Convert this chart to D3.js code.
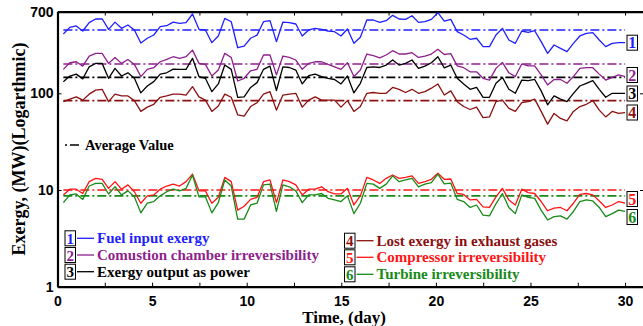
<!DOCTYPE html>
<html>
<head>
<meta charset="utf-8">
<script src="https://cdn.jsdelivr.net/npm/d3@7"></script>
<style>
  html, body { margin: 0; padding: 0; background: #fff; }
  svg { display: block; }
  .tick text { font-family: "Liberation Sans", Arial, sans-serif; font-weight: bold; font-size: 14px; fill: #000; }
  .serif { font-family: "Liberation Serif", "Times New Roman", serif; font-weight: bold; }
</style>
</head>
<body>
<div id="chart"></div>
<script>
// readings every ~1/3 day, MW
const fuelInput = [410, 481, 497, 441, 538, 587, 590, 459, 545, 470, 509, 452, 331, 371, 401, 489, 500, 545, 530, 538, 661, 459, 452, 334, 392, 596, 550, 296, 308, 371, 400,
  550, 564, 342, 546, 538, 521, 392, 452, 470, 459, 441, 434, 392, 463, 329, 380, 573, 573, 542, 564, 640, 587, 582, 635, 542, 550, 582, 682, 557, 582,
  434, 401, 362, 371, 304, 304, 401, 470, 356, 329, 441, 427, 444, 342, 259, 316, 292, 270, 329, 392, 417, 424, 356, 304, 329, 334, 334];
const combustion = [177, 207, 212, 191, 243, 259, 259, 204, 235, 204, 224, 199, 149, 177, 184, 212, 224, 239, 230, 239, 280, 204, 199, 151, 174, 259, 235, 134, 143, 171, 177,
  249, 249, 155, 243, 235, 221, 177, 204, 212, 212, 199, 188, 177, 207, 149, 174, 255, 245, 233, 249, 276, 255, 255, 263, 235, 243, 255, 285, 252, 257,
  192, 184, 167, 167, 143, 137, 181, 209, 163, 149, 201, 192, 192, 155, 122, 139, 139, 127, 149, 181, 184, 184, 158, 137, 146, 155, 149];
const power = [132, 151, 158, 141, 188, 204, 204, 143, 181, 151, 163, 143, 101, 119, 132, 158, 163, 178, 177, 177, 230, 149, 143, 104, 125, 196, 177, 91, 92, 115, 129,
  177, 191, 107, 188, 185, 174, 125, 152, 158, 149, 143, 139, 125, 151, 101, 127, 185, 188, 185, 196, 221, 196, 204, 221, 181, 191, 207, 239, 183, 196,
  143, 125, 110, 115, 91, 91, 127, 146, 110, 100, 137, 135, 139, 106, 76, 94, 87, 82, 100, 119, 127, 135, 110, 91, 100, 100, 100];
const exhaust = [82, 87, 92, 85, 98, 108, 110, 82, 98, 94, 94, 84, 65, 72, 77, 91, 94, 98, 98, 96, 117, 92, 85, 65,
  74, 98, 91, 60, 58, 73, 80, 98, 104, 67, 96, 98, 100, 72, 85, 92, 85, 85, 85, 72, 84, 65, 73, 100, 102, 100, 100, 115, 110, 102, 110,
  100, 104, 113, 125, 96, 106, 82, 73, 68, 72, 56, 57, 82, 85, 70, 65, 80, 82, 87, 65, 48, 62, 55, 52, 65, 73, 77, 84, 67, 57, 65, 62, 63];
const compressor = [8.9, 10.2, 10.2, 9.2, 12.2, 13.2, 12.9, 10.4, 12.2, 10.2, 11.3, 9.6, 7.3, 8.7, 8.9, 10.2, 11.0, 11.5, 11.0, 12.2, 14.6, 9.8, 9.8, 7.3, 8.4, 13.5, 12.2, 6.2, 6.8, 8.0, 8.4,
  12.2, 12.7, 7.4, 12.7, 12.2, 11.3, 8.9, 10.2, 10.2, 10.8, 9.6, 9.1, 9.1, 10.4, 7.0, 8.7, 13.5, 12.7, 11.7, 13.2, 14.3, 13.2, 13.5, 14.0, 11.7, 12.2, 12.9, 14.9, 12.9, 13.0,
  9.2, 9.0, 7.9, 8.0, 6.7, 6.6, 8.5, 10.4, 7.9, 7.0, 10.2, 9.4, 9.2, 7.6, 6.1, 6.5, 6.6, 6.1, 7.3, 9.0, 9.2, 8.9, 7.7, 6.6, 7.0, 7.6, 7.3];
const turbine = [7.4, 8.9, 9.1, 8.0, 11.0, 11.7, 11.7, 9.1, 10.8, 8.9, 9.8, 8.5, 5.8, 7.3, 7.6, 8.7, 9.6, 10.2, 9.8, 10.4, 14.3, 8.5, 8.5, 5.8, 7.4, 12.7, 11.0, 5.0, 5.0, 7.0, 7.3,
  11.3, 11.5, 6.0, 11.3, 10.8, 9.8, 7.4, 8.9, 8.9, 9.2, 8.2, 7.9, 7.6, 8.7, 5.7, 7.3, 11.7, 11.5, 10.4, 11.5, 14.0, 12.2, 12.7, 13.2, 10.8, 11.5, 11.9, 14.6, 11.6, 11.8,
  8.0, 7.6, 6.6, 7.0, 5.5, 5.4, 7.2, 9.2, 6.6, 5.7, 8.9, 8.4, 8.2, 6.2, 4.9, 5.3, 5.4, 5.0, 6.0, 7.6, 7.9, 7.7, 6.6, 5.3, 5.7, 6.2, 6.0];

const averages = [452, 201, 146, 84, 10, 8.7];
const seriesNames = ['Fuel input exergy', 'Comustion chamber irreversibility', 'Exergy output as power',
  'Lost exergy in exhaust gases', 'Compressor irreversibility', 'Turbine irreversibility'];
const seriesColors = ['#1f1fff', '#8e1f8e', '#000000', '#8b1010', '#ff1414', '#188a18'];
const dayRange = [0.31, 30];          // first and last sample day
const xTicks = [0, 2.5, 5, 7.5, 10, 12.5, 15, 17.5, 20, 22.5, 25, 27.5, 30];
const yTicks = [1, 10, 100, 700];

const allSeries = [fuelInput, combustion, power, exhaust, compressor, turbine];

const width = 643, height = 326;
const margin = { top: 11.6, left: 57.5, right: 644, bottom: 286.7 };

const svg = d3.select('#chart')
  .append('svg')
  .attr('width', width)
  .attr('height', height);

const xScale = d3.scaleLinear().domain([0, 31]).range([margin.left, margin.right]);
const yScale = d3.scaleLog().domain([1, 700]).range([margin.bottom, margin.top]);
const sampleDay = d3.scaleLinear().domain([0, fuelInput.length - 1]).range(dayRange);

// axes, ticks inside like matlab
svg.append('g')
  .attr('transform', `translate(0, ${margin.bottom})`)
  .call(d3.axisBottom(xScale).tickValues(xTicks).tickSizeInner(-4).tickSizeOuter(0).tickPadding(9)
    .tickFormat((d) => (d % 5 === 0 ? d : '')));
svg.append('g')
  .attr('transform', `translate(0, ${margin.top})`)
  .call(d3.axisTop(xScale).tickValues(xTicks).tickSizeInner(-4).tickSizeOuter(0).tickFormat(''));
svg.append('g')
  .attr('transform', `translate(${margin.left}, 0)`)
  .call(d3.axisLeft(yScale).tickValues(yTicks).tickSizeInner(-4).tickSizeOuter(0).tickPadding(4)
    .tickFormat(d3.format('d')));
svg.append('g')
  .attr('transform', `translate(${margin.right}, 0)`)
  .call(d3.axisRight(yScale).tickValues(yTicks).tickSizeInner(-4).tickSizeOuter(0).tickFormat(''));

svg.selectAll('.domain').attr('stroke', '#000').attr('stroke-width', 2.2);
svg.selectAll('.tick line').attr('stroke', '#000').attr('stroke-width', 1);

// average lines
const dashDot = '9,3,2,3';
svg.append('g')
  .selectAll('line')
  .data(averages)
  .enter()
  .append('line')
    .attr('x1', xScale(dayRange[0]))
    .attr('x2', xScale(dayRange[1]))
    .attr('y1', (d) => yScale(d))
    .attr('y2', (d) => yScale(d))
    .attr('stroke', (d, i) => seriesColors[i])
    .attr('stroke-width', 1.6)
    .attr('stroke-dasharray', dashDot);

// data lines
const line = d3.line()
  .x((d, i) => xScale(sampleDay(i)))
  .y((d) => yScale(d));

svg.append('g')
  .selectAll('path')
  .data(allSeries)
  .enter()
  .append('path')
    .attr('d', line)
    .attr('fill', 'none')
    .attr('stroke', (d, i) => seriesColors[i])
    .attr('stroke-width', 1.3)
    .attr('stroke-linejoin', 'round');

function boxedNumber(x, yMid, num, color, size) {
  const g = svg.append('g');
  g.append('rect')
    .attr('x', x).attr('y', yMid - 7.5)
    .attr('width', 10.5).attr('height', 15)
    .attr('fill', '#fff').attr('stroke', '#000').attr('stroke-width', 1);
  g.append('text')
    .attr('class', 'serif')
    .attr('x', x + 5.25).attr('y', yMid + 5.5)
    .attr('text-anchor', 'middle')
    .attr('font-size', size)
    .attr('fill', color)
    .text(num);
}

// right side labels
const endLabelY = [42.7, 75, 93.5, 112.5, 199, 217];
endLabelY.forEach((y, i) => boxedNumber(627, y, i + 1, seriesColors[i], 16));

// legend
const legendCols = [
  { x: 65, rows: [238.3, 255, 271.7] },
  { x: 344.5, rows: [240.7, 257.3, 274.3] }
];
seriesNames.forEach((name, i) => {
  const col = legendCols[Math.floor(i / 3)];
  const y = col.rows[i % 3];
  boxedNumber(col.x, y, i + 1, seriesColors[i], 15);
  svg.append('line')
    .attr('x1', col.x + 12).attr('x2', col.x + 29)
    .attr('y1', y).attr('y2', y)
    .attr('stroke', seriesColors[i]).attr('stroke-width', 1.3);
  svg.append('text')
    .attr('class', 'serif')
    .attr('x', col.x + 32).attr('y', y + 5)
    .attr('font-size', 15)
    .attr('fill', seriesColors[i])
    .text(name);
});

// average value note
svg.append('line')
  .attr('x1', 65).attr('x2', 82).attr('y1', 145).attr('y2', 145)
  .attr('stroke', '#000').attr('stroke-width', 1.3).attr('stroke-dasharray', '2,3,9,3');
svg.append('text')
  .attr('class', 'serif')
  .attr('x', 85).attr('y', 150)
  .attr('font-size', 14.5)
  .text('Average Value');

// axis titles
svg.append('text')
  .attr('class', 'serif')
  .attr('x', 344).attr('y', 323)
  .attr('text-anchor', 'middle')
  .attr('font-size', 17)
  .text('Time, (day)');
svg.append('text')
  .attr('class', 'serif')
  .attr('transform', 'translate(25, 149) rotate(-90)')
  .attr('text-anchor', 'middle')
  .attr('font-size', 18)
  .text('Exergy, (MW)(Logarthmic)');
</script>
</body>
</html>
